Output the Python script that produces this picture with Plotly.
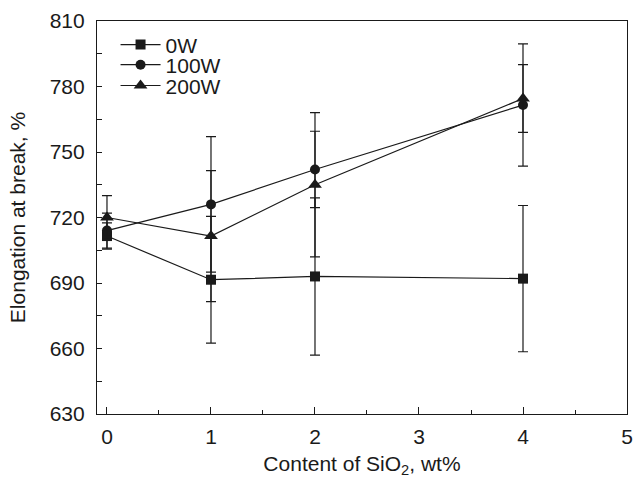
import plotly.graph_objects as go

x_vals = [0, 1, 2, 4]
series_names = ["0W", "100W", "200W"]
y_0w = [711.5, 691.5, 693.0, 692.0]
err_0w = [6.0, 29.0, 36.0, 33.5]
y_100w = [714.0, 726.0, 742.0, 771.5]
err_100w = [8.0, 31.0, 17.5, 28.0]
y_200w = [720.0, 711.5, 735.0, 774.5]
err_200w = [10.0, 30.0, 33.0, 15.5]
symbols = ["square", "circle", "triangle-up"]

x_ticks = [0, 1, 2, 3, 4, 5]
y_ticks = [630, 660, 690, 720, 750, 780, 810]

FONT = "Liberation Sans, Arial, Helvetica, sans-serif"
FS = 21
legend_ids = ["legend", "legend2", "legend3"]
legend_y = [0.939, 0.888, 0.835]

fig = go.Figure()
for name, ys, errs, sym, lid in zip(series_names, [y_0w, y_100w, y_200w],
                                    [err_0w, err_100w, err_200w], symbols, legend_ids):
    fig.add_trace(go.Scatter(
        x=x_vals, y=ys, name=name, mode="lines+markers", legend=lid,
        line=dict(color="#1a1a1a", width=1.2),
        marker=dict(symbol=sym, size=10 if sym != "triangle-up" else 12, color="#1a1a1a"),
        error_y=dict(type="data", array=errs, visible=True, color="#1a1a1a",
                     thickness=1.2, width=5),
    ))

legend_common = dict(x=0.035, xanchor="left", yanchor="middle",
                     bgcolor="rgba(0,0,0,0)", font=dict(size=FS, family=FONT, color="#1a1a1a"),
                     itemwidth=40, borderwidth=0)
layout_legends = {}
for lid, ly in zip(legend_ids, legend_y):
    layout_legends[lid] = dict(legend_common, y=ly)

fig.update_layout(
    width=635, height=478,
    margin=dict(l=97, r=8, t=21, b=64),
    paper_bgcolor="white", plot_bgcolor="white",
    font=dict(family=FONT, size=FS, color="#1a1a1a"),
    showlegend=True,
    xaxis=dict(range=[-0.096, 5], tickvals=x_ticks, ticks="inside", ticklen=7,
               tickcolor="#1a1a1a", showline=True, linecolor="#1a1a1a", linewidth=1.2,
               mirror=True, showgrid=False, zeroline=False, ticklabelstandoff=4,
               automargin=False,
               minor=dict(dtick=0.5, ticks="inside", ticklen=4, tickcolor="#1a1a1a"),
               title=dict(text="Content of SiO<sub>2</sub>, wt%", font=dict(size=FS), standoff=11),
               tickfont=dict(size=FS)),
    yaxis=dict(range=[630, 810], tickvals=y_ticks, ticks="inside", ticklen=5,
               tickcolor="#1a1a1a", showline=True, linecolor="#1a1a1a", linewidth=1.2,
               mirror=True, showgrid=False, zeroline=False, ticklabelstandoff=7,
               automargin=False,
               minor=dict(dtick=15, ticks="inside", ticklen=5, tickcolor="#1a1a1a"),
               title=dict(text="Elongation at break, %", font=dict(size=FS), standoff=18),
               tickfont=dict(size=FS)),
    **layout_legends,
)

fig.write_html("out.html", config={"displayModeBar": False},
               post_script="document.body.style.margin='0';")
